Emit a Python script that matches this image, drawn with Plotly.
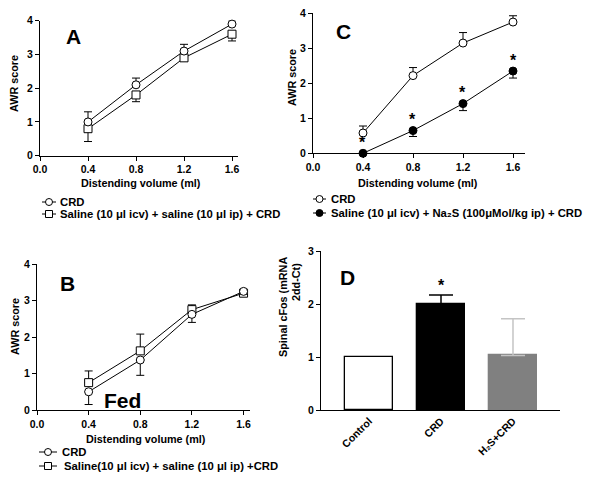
import plotly.graph_objects as go

# ---------------- data ----------------
volumes = [0.4, 0.8, 1.2, 1.6]
vol_ticks = [0.0, 0.4, 0.8, 1.2, 1.6]
awr_ticks = [0, 1, 2, 3, 4]

# Panel A
a_crd = [1.0, 2.1, 3.1, 3.9]
a_crd_err = [0.3, 0.2, 0.2, 0.1]
a_sal = [0.8, 1.8, 2.9, 3.6]
a_sal_err = [0.38, 0.2, 0.08, 0.2]
a_legend = ["CRD", "Saline (10 μl icv) + saline (10 μl ip) + CRD"]

# Panel B
b_crd = [0.5, 1.37, 2.62, 3.25]
b_crd_err = [0.35, 0.42, 0.22, 0.08]
b_sal = [0.75, 1.62, 2.75, 3.2]
b_sal_err = [0.32, 0.46, 0.13, 0.08]
b_legend = ["CRD", "Saline(10 μl icv) + saline (10 μl ip) +CRD"]

# Panel C
c_crd = [0.58, 2.22, 3.15, 3.75]
c_crd_err = [0.2, 0.23, 0.3, 0.18]
c_na2s = [0.0, 0.65, 1.42, 2.35]
c_na2s_err = [0.0, 0.17, 0.2, 0.2]
c_legend = ["CRD", "Saline (10 μl icv) + Na₂S (100μMol/kg ip) + CRD"]

# Panel D
d_groups = ["Control", "CRD", "H₂S+CRD"]
d_values = [1.0, 2.0, 1.03]
d_err = [0.0, 0.17, 0.69]
d_ticks = [0, 1, 2, 3]

W, H = 600, 489
FONT = "Arial, Liberation Sans, sans-serif"


def px(x):
    return x / W


def py(y):
    return 1 - y / H


fig = go.Figure()

line = dict(color="black", width=1)
open_square = dict(symbol="square", size=8, color="white", line=dict(width=1, color="black"))
white_circle = dict(symbol="circle", size=8, color="white", line=dict(width=1, color="black"))
filled_circle = dict(symbol="circle", size=8, color="black", line=dict(width=1, color="black"))


def err(vals, up=True, color="black"):
    zeros = [0] * len(vals)
    return dict(type="data", symmetric=False,
                array=vals if up else zeros,
                arrayminus=zeros if up else vals,
                color=color, thickness=1, width=4)


def series(x, y, e, up, marker, xa, ya):
    fig.add_trace(go.Scatter(x=x, y=y, mode="lines+markers", line=line, marker=marker,
                             error_y=err(e, up), xaxis=xa, yaxis=ya, cliponaxis=False,
                             showlegend=False))


# Panel A (x, y)
series(volumes, a_sal, a_sal_err, False, open_square, "x", "y")
series(volumes, a_crd, a_crd_err, True, white_circle, "x", "y")
# Panel C (x2, y2)
series(volumes, c_crd, c_crd_err, True, white_circle, "x2", "y2")
series(volumes, c_na2s, c_na2s_err, False, filled_circle, "x2", "y2")
# Panel B (x3, y3)
series(volumes, b_sal, b_sal_err, True, open_square, "x3", "y3")
series(volumes, b_crd, b_crd_err, False, white_circle, "x3", "y3")

# Panel D (x4, y4)
bar_fill = ["white", "black", "#808080"]
bar_line = ["black", "black", "#808080"]
err_col = ["black", "black", "#c4c4c4"]
for g, v, e, fc, lc, ec in zip(d_groups, d_values, d_err, bar_fill, bar_line, err_col):
    fig.add_trace(go.Bar(x=[g], y=[v], width=0.667, marker=dict(color=fc, line=dict(color=lc, width=1.3)),
                         error_y=dict(type="data", symmetric=False, array=[e], arrayminus=[0],
                                      color=ec, thickness=1.5, width=12, visible=e > 0),
                         xaxis="x4", yaxis="y4", cliponaxis=False, showlegend=False))

tickfont = dict(family=FONT, size=10.5, color="black", weight="bold")
axis_common = dict(showline=True, linecolor="black", linewidth=1, ticks="outside", ticklen=4,
                   tickwidth=1, tickcolor="black", showgrid=False, zeroline=False, tickfont=tickfont,
                   automargin=False)

fig.update_layout(
    width=W, height=H, margin=dict(l=0, r=0, t=0, b=0, pad=0, autoexpand=False),
    paper_bgcolor="white", plot_bgcolor="white", showlegend=False,
    font=dict(family=FONT, color="black", weight="bold"),
    bargap=0,
    # A
    xaxis=dict(domain=[px(40), px(238)], range=[0, 1.65], tickvals=vol_ticks, tickformat=".1f",
               anchor="y", **axis_common),
    yaxis=dict(domain=[py(155.7), py(20.7)], range=[0, 4], tickvals=awr_ticks, anchor="x", **axis_common),
    # C
    xaxis2=dict(domain=[px(313), px(525)], range=[0, 1.696], tickvals=vol_ticks, tickformat=".1f",
                anchor="y2", **axis_common),
    yaxis2=dict(domain=[py(153.3), py(13.3)], range=[0, 4], tickvals=awr_ticks, anchor="x2", **axis_common),
    # B
    xaxis3=dict(domain=[px(37), px(250)], range=[0, 1.65], tickvals=vol_ticks, tickformat=".1f",
                anchor="y3", **axis_common),
    yaxis3=dict(domain=[py(410), py(264)], range=[0, 4], tickvals=awr_ticks, anchor="x3", **axis_common),
    # D
    xaxis4=dict(domain=[px(321), px(560)], range=[-0.667, 2.653], type="category", tickangle=-45,
                anchor="y4", **{**axis_common, "ticks": ""}),
    yaxis4=dict(domain=[py(410), py(251)], range=[0, 3], tickvals=d_ticks, anchor="x4", **axis_common),
)

ann = []


def text(x, y, t, size=10.8, angle=0, xanchor="center"):
    ann.append(dict(x=px(x), y=py(y), xref="paper", yref="paper", text=t, showarrow=False,
                    textangle=angle, xanchor=xanchor, yanchor="middle",
                    font=dict(family=FONT, size=size, color="black", weight="bold")))


# axis titles
text(14, 84, "AWR score", angle=-90)
text(141, 183, "Distending volume (ml)")
text(292, 78, "AWR score", angle=-90)
text(418, 183, "Distending volume (ml)")
text(15, 327, "AWR score", angle=-90)
text(146, 439, "Distending volume (ml)")
text(283, 307, "Spinal cFos (mRNA", angle=-90)
text(296, 282, "2dd-Ct)", angle=-90)

# panel letters
text(73, 36, "A", size=21)
text(343, 32, "C", size=21)
text(67, 283, "B", size=21)
text(347, 277, "D", size=21)
text(122, 400, "Fed", size=21)

# significance asterisks (panel C, above Na2S points)
for v, yv in zip(volumes, c_na2s):
    ann.append(dict(x=v, y=yv, xref="x2", yref="y2", text="*", showarrow=False, yshift=11,
                    font=dict(family=FONT, size=16, color="black", weight="bold")))
# panel D asterisk above CRD bar
ann.append(dict(x=d_groups[1], y=d_values[1] + d_err[1], xref="x4", yref="y4", text="*", showarrow=False,
                yshift=9, font=dict(family=FONT, size=16, color="black", weight="bold")))

shapes = []


def legend(x0, x1, y, label, kind, tx):
    shapes.append(dict(type="line", xref="paper", yref="paper", x0=px(x0), x1=px(x1), y0=py(y), y1=py(y),
                       line=dict(color="black", width=1)))
    xm = (x0 + x1) / 2
    fill = "black" if kind == "filled" else "white"
    shapes.append(dict(type="rect" if kind == "square" else "circle", xref="paper", yref="paper",
                       xsizemode="pixel", ysizemode="pixel", xanchor=px(xm), yanchor=py(y),
                       x0=-3.5, x1=3.5, y0=-3.5, y1=3.5, fillcolor=fill,
                       line=dict(color="black", width=1)))
    text(tx, y, label, size=11.3, xanchor="left")


legend(42, 56, 202, a_legend[0], "circle", 58)
legend(42, 56, 214, a_legend[1], "square", 58)
legend(313, 326, 199, c_legend[0], "circle", 329)
legend(313, 326, 213, c_legend[1], "filled", 329)
legend(39, 57, 452, b_legend[0], "circle", 60)
legend(39, 57, 466, b_legend[1], "square", 62)

fig.update_layout(annotations=ann, shapes=shapes)
fig.write_html("out.html", post_script="document.body.style.margin='0';",
               config={"displayModeBar": False})
